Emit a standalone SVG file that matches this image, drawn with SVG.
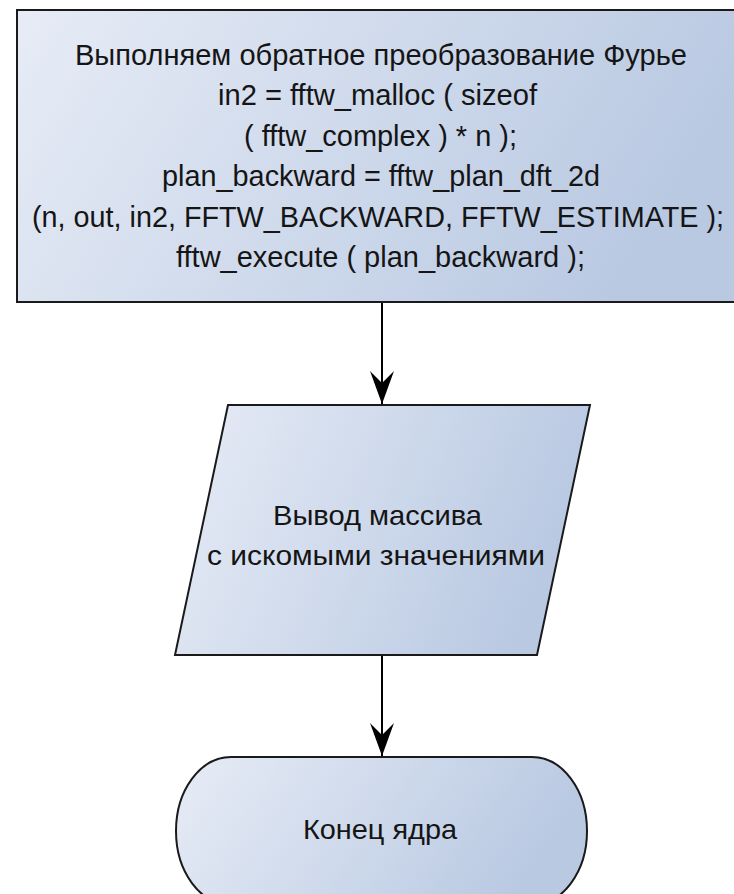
<svg xmlns="http://www.w3.org/2000/svg" width="734" height="894" viewBox="0 0 734 894">
  <defs>
    <linearGradient id="fillGrad" x1="0" y1="0" x2="1" y2="0.25">
      <stop offset="0" stop-color="#e7ecf6"/>
      <stop offset="1" stop-color="#b9c9e2"/>
    </linearGradient>
    <marker id="arrow" markerWidth="34" markerHeight="24" refX="33" refY="12" orient="auto" markerUnits="userSpaceOnUse" viewBox="0 0 34 24">
      <path d="M33,12 L0,0 L12,12 L0,24 Z" fill="#000"/>
    </marker>
    <style>
      .shape { fill: url(#fillGrad); stroke: #1a1a1a; stroke-width: 2; }
      .txt { font-family: "Liberation Sans", Arial, sans-serif; font-size: 28px; fill: #151515; }
      .narrow { font-size: 30px; }
      .conn { stroke: #000; stroke-width: 2; fill: none; }
    </style>
  </defs>
  <rect width="734" height="894" fill="#ffffff"/>

  <g id="node-fft">
    <rect class="shape" x="17" y="10" width="730" height="292"/>
    <text class="txt narrow" x="75" y="65" textLength="612" lengthAdjust="spacingAndGlyphs">Выполняем обратное преобразование Фурье</text>
    <text class="txt narrow" x="218" y="105" textLength="319" lengthAdjust="spacingAndGlyphs">in2 = fftw_malloc ( sizeof</text>
    <text class="txt narrow" x="244" y="146" textLength="273" lengthAdjust="spacingAndGlyphs">( fftw_complex ) * n );</text>
    <text class="txt narrow" x="162" y="186" textLength="438" lengthAdjust="spacingAndGlyphs">plan_backward = fftw_plan_dft_2d</text>
    <text class="txt narrow" transform="scale(0.9,1)" x="35.56" y="227" textLength="768.9" lengthAdjust="spacingAndGlyphs">(n, out, in2, FFTW_BACKWARD, FFTW_ESTIMATE );</text>
    <text class="txt narrow" x="176" y="267" textLength="409" lengthAdjust="spacingAndGlyphs">fftw_execute ( plan_backward );</text>
  </g>

  <g id="node-output">
    <polygon class="shape" points="228,405 590,405 537,655 175,655"/>
    <text class="txt" x="273" y="525" textLength="209" lengthAdjust="spacingAndGlyphs">Вывод массива</text>
    <text class="txt" x="207" y="565" textLength="338" lengthAdjust="spacingAndGlyphs">с искомыми значениями</text>
  </g>

  <g id="node-end">
    <path class="shape" d="M231,757 H532 A55,74 0 0 1 587,831 A55,74 0 0 1 532,905 H231 A55,74 0 0 1 176,831 A55,74 0 0 1 231,757 Z"/>
    <text class="txt" x="303" y="839" textLength="154" lengthAdjust="spacingAndGlyphs">Конец ядра</text>
  </g>

  <g id="connectors">
    <line class="conn" x1="382" y1="303" x2="382" y2="404" marker-end="url(#arrow)"/>
    <line class="conn" x1="382" y1="656" x2="382" y2="756" marker-end="url(#arrow)"/>
  </g>
</svg>
